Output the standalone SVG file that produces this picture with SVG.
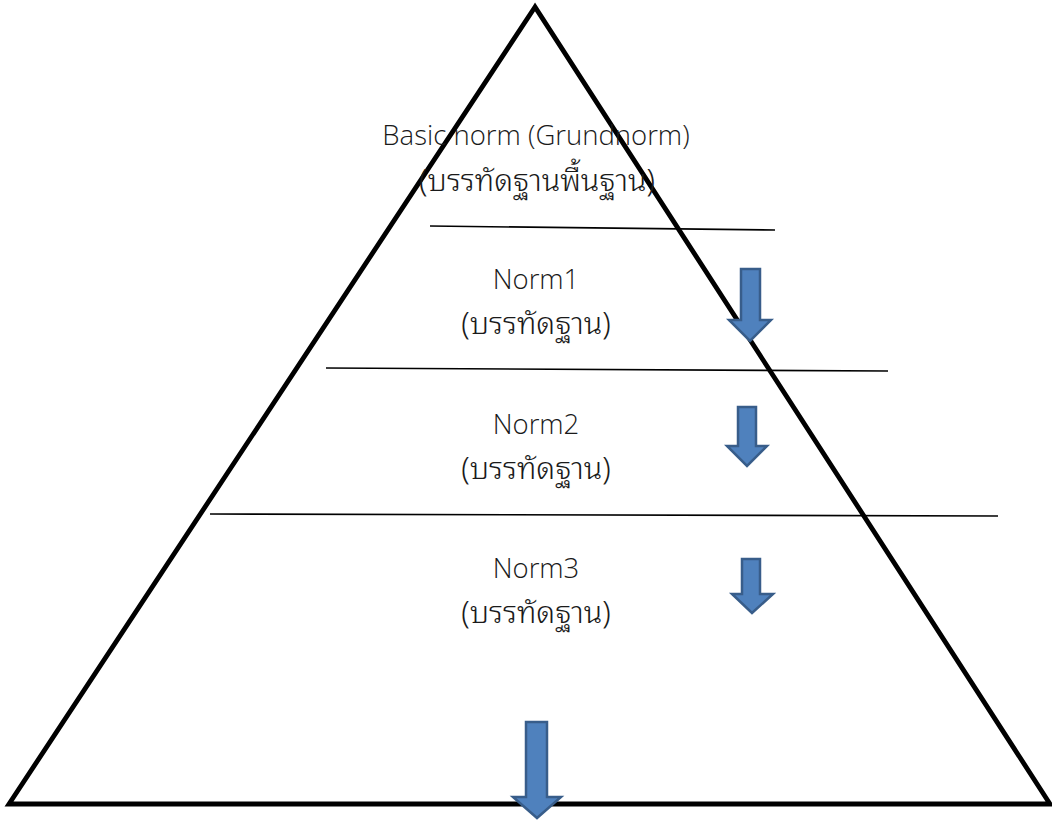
<svg xmlns="http://www.w3.org/2000/svg" width="1052" height="820" viewBox="0 0 1052 820">
<defs>
<style>
.t{font-family:"Open Sans","Noto Sans","Liberation Sans",sans-serif;font-size:27.5px;fill:#1a1a1a;text-anchor:middle;font-weight:300}
.th{font-family:"Noto Sans Thai Looped","Noto Sans Thai","Garuda","Loma","Tlwg Typo","Open Sans",sans-serif;font-weight:300;font-size:30.5px}
.sep{stroke:#000;stroke-width:1.6;fill:none}
.arr{fill:#4F81BD;stroke:#385D8A;stroke-width:2.5;stroke-linejoin:miter}
</style>
</defs>
<rect width="1052" height="820" fill="#fff"/>
<g id="pyramid">
<polygon points="535,7 9,804 1050,804" fill="none" stroke="#000" stroke-width="4.8" stroke-linejoin="miter"/>
</g>
<g id="connectors">
<line class="sep" x1="430" y1="226" x2="775" y2="230"/>
<line class="sep" x1="326" y1="368" x2="888" y2="371"/>
<line class="sep" x1="210" y1="514" x2="998" y2="516"/>
<polygon id="arrow1" class="arr" points="741,269 760,269 760,320 771,320 750,341 729,320 741,320"/>
<polygon id="arrow2" class="arr" points="738,407 756,407 756,446 767,446 747,466 727,446 738,446"/>
<polygon id="arrow3" class="arr" points="742,559 760,559 760,594 773,594 752,613 732,594 742,594"/>
<polygon id="arrow4" class="arr" points="526,722 547,722 547,797 561,797 537,818 513,797 526,797"/>
</g>
<g id="basic">
<text class="t" x="536" y="145">Basic norm (Grundnorm)</text>
<text class="t th" x="537" y="191">(บรรทัดฐานพื้นฐาน)</text>
</g>
<g id="norm1">
<text class="t" x="536" y="289">Norm1</text>
<text class="t th" x="536" y="334">(บรรทัดฐาน)</text>
</g>
<g id="norm2">
<text class="t" x="536" y="434">Norm2</text>
<text class="t th" x="536" y="479">(บรรทัดฐาน)</text>
</g>
<g id="norm3">
<text class="t" x="536" y="578">Norm3</text>
<text class="t th" x="536" y="623">(บรรทัดฐาน)</text>
</g>
</svg>
